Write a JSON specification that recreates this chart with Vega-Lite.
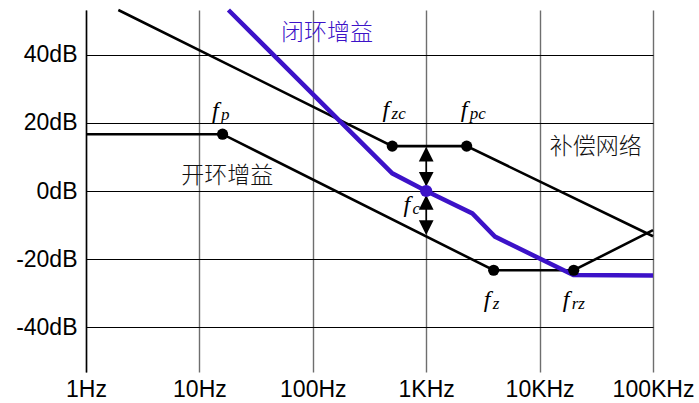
{
  "$schema": "https://vega.github.io/schema/vega-lite/v6.json",
  "width": 567,
  "height": 362,
  "autosize": {"type": "none"},
  "padding": {"left": 86, "top": 10, "right": 46, "bottom": 31},
  "background": "white",
  "config": {"view": {"stroke": null}, "font": "Liberation Sans"},
  "datasets": {
    "lines": [
      {"series": "comp", "f": 1.928, "dB": 53.2},
      {"series": "comp", "f": 502, "dB": 13.2},
      {"series": "comp", "f": 2274, "dB": 13.2},
      {"series": "comp", "f": 100000, "dB": -13.3},
      {"series": "open", "f": 1, "dB": 16.7},
      {"series": "open", "f": 16, "dB": 16.7},
      {"series": "open", "f": 3935, "dB": -23.3},
      {"series": "open", "f": 20000, "dB": -23.3},
      {"series": "open", "f": 100000, "dB": -11.5}
    ],
    "closed": [
      {"f": 18.03, "dB": 53.2},
      {"f": 502, "dB": 5.2},
      {"f": 1000, "dB": 0},
      {"f": 2553, "dB": -6.6},
      {"f": 4038, "dB": -13.4},
      {"f": 19870, "dB": -24.7},
      {"f": 100000, "dB": -24.8}
    ],
    "dots": [
      {"f": 16, "dB": 16.7},
      {"f": 502, "dB": 13.2},
      {"f": 2274, "dB": 13.2},
      {"f": 3935, "dB": -23.3},
      {"f": 20000, "dB": -23.3}
    ],
    "fcdot": [{"f": 1000, "dB": 0}],
    "shafts": [
      {"f": 1000, "y1": 12.5, "y2": 1.8},
      {"f": 1000, "y1": -1.7, "y2": -12.4}
    ],
    "heads": [
      {"f": 1000, "dB": 13.0, "dir": "up"},
      {"f": 1000, "dB": 1.3, "dir": "down"},
      {"f": 1000, "dB": -1.2, "dir": "up"},
      {"f": 1000, "dB": -12.9, "dir": "down"}
    ],
    "cn": [
      {"f": 133.4, "dB": 46.5, "text": "闭环增益", "kind": "closed"},
      {"f": 17.6, "dB": 4.4, "text": "开环增益", "kind": "black"},
      {"f": 31260, "dB": 12.9, "text": "补偿网络", "kind": "black"}
    ],
    "flab": [
      {"f": 12.9, "dB": 21.5, "main": "f", "sub": "p"},
      {"f": 412, "dB": 21.8, "main": "f", "sub": "zc"},
      {"f": 2013, "dB": 21.8, "main": "f", "sub": "pc"},
      {"f": 631, "dB": -6.2, "main": "f", "sub": "c"},
      {"f": 3212, "dB": -34.1, "main": "f", "sub": "z"},
      {"f": 15990, "dB": -34.1, "main": "f", "sub": "rz"}
    ]
  },
  "layer": [
    {
      "data": {"name": "lines"},
      "mark": {"type": "line", "color": "black", "strokeWidth": 2.6},
      "encoding": {
        "x": {
          "field": "f", "type": "quantitative",
          "scale": {"type": "log", "domain": [1, 100000], "nice": false},
          "axis": {
            "title": null,
            "values": [1, 10, 100, 1000, 10000, 100000],
            "labelExpr": "datum.value >= 1000 ? (datum.value / 1000) + 'KHz' : datum.value + 'Hz'",
            "grid": true, "gridColor": "#6e6e6e", "gridWidth": 1.4,
            "domain": false, "ticks": false, "tickSize": 0,
            "labelFontSize": 23, "labelColor": "black", "labelPadding": 6,
            "labelFont": "Liberation Sans",
            "labelOverlap": false, "labelFlush": false, "labelBound": false
          }
        },
        "y": {
          "field": "dB", "type": "quantitative",
          "scale": {"domain": [-53.2, 53.2], "nice": false, "zero": false},
          "axis": {
            "title": null,
            "values": [-40, -20, 0, 20, 40],
            "labelExpr": "datum.value + 'dB'",
            "grid": true, "gridColor": "black", "gridWidth": 1.1,
            "domain": true, "domainColor": "black", "domainWidth": 1.5,
            "ticks": false, "tickSize": 0,
            "labelFontSize": 23, "labelColor": "black", "labelPadding": 9,
            "labelFont": "Liberation Sans",
            "labelOverlap": false, "labelBound": false, "labelFlush": false
          }
        },
        "detail": {"field": "series"}
      }
    },
    {
      "data": {"name": "closed"},
      "mark": {"type": "line", "color": "#3c12c8", "strokeWidth": 4.5},
      "encoding": {
        "x": {"field": "f", "type": "quantitative"},
        "y": {"field": "dB", "type": "quantitative"}
      }
    },
    {
      "data": {"name": "dots"},
      "mark": {"type": "circle", "color": "black", "opacity": 1, "size": 125},
      "encoding": {
        "x": {"field": "f", "type": "quantitative"},
        "y": {"field": "dB", "type": "quantitative"}
      }
    },
    {
      "data": {"name": "shafts"},
      "mark": {"type": "rule", "color": "black", "strokeWidth": 1.6},
      "encoding": {
        "x": {"field": "f", "type": "quantitative"},
        "y": {"field": "y1", "type": "quantitative"},
        "y2": {"field": "y2"}
      }
    },
    {
      "data": {"name": "heads"},
      "mark": {"type": "point", "filled": true, "color": "black", "opacity": 1, "size": 216, "strokeWidth": 0},
      "encoding": {
        "x": {"field": "f", "type": "quantitative"},
        "y": {"field": "dB", "type": "quantitative"},
        "shape": {
          "field": "dir", "type": "nominal", "legend": null,
          "scale": {"domain": ["up", "down"], "range": ["M0,0L-1,2L1,2Z", "M0,0L-1,-2L1,-2Z"]}
        }
      }
    },
    {
      "data": {"name": "fcdot"},
      "mark": {"type": "circle", "color": "#3c12c8", "opacity": 1, "size": 150},
      "encoding": {
        "x": {"field": "f", "type": "quantitative"},
        "y": {"field": "dB", "type": "quantitative"}
      }
    },
    {
      "data": {"name": "cn"},
      "mark": {"type": "text", "font": "Noto Sans CJK SC", "fontWeight": 300, "fontSize": 23, "align": "center", "baseline": "middle"},
      "encoding": {
        "x": {"field": "f", "type": "quantitative"},
        "y": {"field": "dB", "type": "quantitative"},
        "text": {"field": "text"},
        "color": {
          "field": "kind", "type": "nominal", "legend": null,
          "scale": {"domain": ["closed", "black"], "range": ["#3c12c8", "#111111"]}
        }
      }
    },
    {
      "data": {"name": "flab"},
      "mark": {"type": "text", "font": "Liberation Serif", "fontStyle": "italic", "fontSize": 24, "align": "left", "baseline": "alphabetic", "color": "black"},
      "encoding": {
        "x": {"field": "f", "type": "quantitative"},
        "y": {"field": "dB", "type": "quantitative"},
        "text": {"field": "main"}
      }
    },
    {
      "data": {"name": "flab"},
      "mark": {"type": "text", "font": "Liberation Serif", "fontStyle": "italic", "fontSize": 17, "align": "left", "baseline": "alphabetic", "color": "black", "dx": 9, "dy": 2},
      "encoding": {
        "x": {"field": "f", "type": "quantitative"},
        "y": {"field": "dB", "type": "quantitative"},
        "text": {"field": "sub"}
      }
    }
  ]
}
